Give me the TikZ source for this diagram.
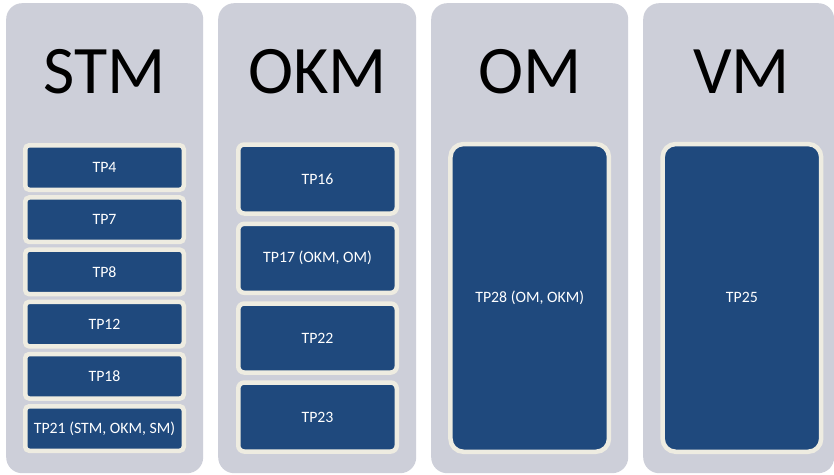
\documentclass[tikz,border=0pt]{standalone}
\usepackage{fontspec}
\setmainfont{Carlito}
\definecolor{colbg}{RGB}{205,207,217}
\definecolor{boxblue}{RGB}{31,73,125}
\definecolor{cream}{RGB}{238,236,225}
\begin{document}
\begin{tikzpicture}[x=1pt,y=-1pt,
  column/.style={fill=colbg,draw=none,rounded corners=16pt,inner sep=0pt,anchor=north west},
  header/.style={font=\fontsize{68}{68}\selectfont,text=black,anchor=base,inner sep=0pt},
  tpbox/.style={fill=boxblue,draw=cream,line width=4.5pt,text=white,
    font=\fontsize{15.8}{15.8}\selectfont,inner sep=0pt,minimum width=158.5pt},
  small/.style={tpbox,rounded corners=4pt,minimum height=44.5pt},
  mid/.style={tpbox,rounded corners=6pt,minimum height=69pt},
  tall/.style={tpbox,rounded corners=13pt,minimum height=307.7pt}]
\useasboundingbox (0,0) rectangle (834,474);
\fill[white] (0,0) rectangle (834,474);
% columns
\node[column,minimum width=197pt,minimum height=470pt] (c1) at (6,3) {};
\node[column,minimum width=198pt,minimum height=470pt] (c2) at (218,3) {};
\node[column,minimum width=197pt,minimum height=470pt] (c3) at (431,3) {};
\node[column,minimum width=191pt,minimum height=470pt] (c4) at (643,3) {};
% headers
\node[header] (h1) at (104.5,93) {STM};
\node[header] (h2) at (317.5,93) {OKM};
\node[header] (h3) at (529.7,93) {OM};
\node[header] (h4) at (741.5,93) {VM};
% STM boxes
\node[small] (tp4) at (104.5,167.5) {TP4};
\node[small] (tp7) at (104.5,219.7) {TP7};
\node[small] (tp8) at (104.5,271.9) {TP8};
\node[small] (tp12) at (104.5,324.1) {TP12};
\node[small] (tp18) at (104.5,376.3) {TP18};
\node[small] (tp21) at (104.5,428.5) {TP21 (STM, OKM, SM)};
% OKM boxes
\node[mid] (tp16) at (317.5,179) {TP16};
\node[mid] (tp17) at (317.5,258.3) {TP17 (OKM, OM)};
\node[mid] (tp22) at (317.5,338) {TP22};
\node[mid] (tp23) at (317.5,417) {TP23};
% OM / VM
\node[tall] (tp28) at (529.7,297.9) {TP28 (OM, OKM)};
\node[tall] (tp25) at (741.9,297.9) {TP25};
\end{tikzpicture}
\end{document}
